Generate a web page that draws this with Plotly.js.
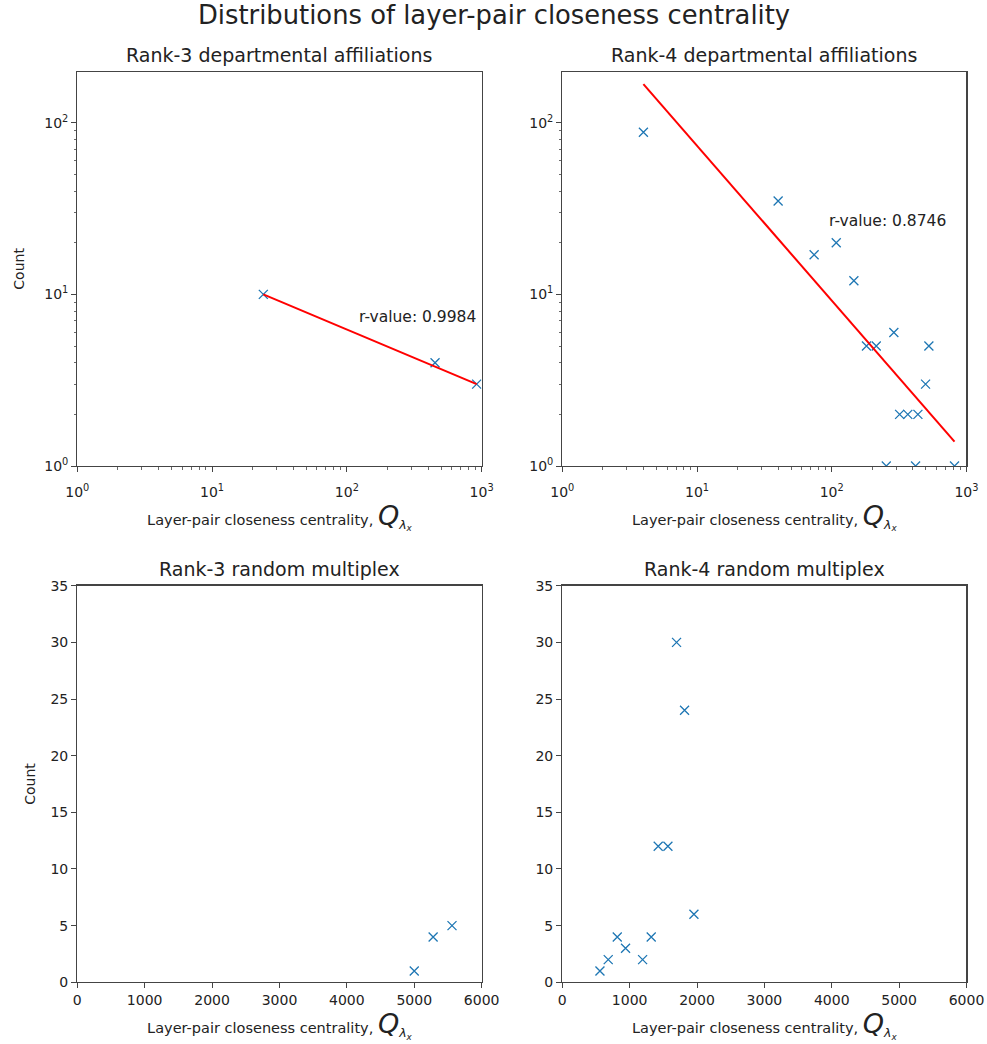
<!DOCTYPE html>
<html>
<head>
<meta charset="utf-8">
<script src="https://cdn.plot.ly/plotly-3.0.1.min.js"></script>
<style>html,body{margin:0;padding:0;background:#fff;}#chart{width:987px;height:1044px;}</style>
</head>
<body>
<div id="chart"></div>
<script>
// ---- data ----
const rank3DeptX = [24, 451, 918];
const rank3DeptY = [10, 4, 3];
const rank3DeptFitSlope = -0.3304;     // log10-log10 fit
const rank3DeptFitIntercept = 1.456;
const rank3DeptRText = "r-value: 0.9984";

const rank4DeptX = [4, 40, 74, 108, 146, 181, 214, 289, 526, 497, 319, 367, 436, 254, 419, 815];
const rank4DeptY = [88, 35, 17, 20, 12, 5, 5, 6, 5, 3, 2, 2, 2, 1, 1, 1];
const rank4DeptFitSlope = -0.902;
const rank4DeptFitIntercept = 2.768;
const rank4DeptRText = "r-value: 0.8746";

const rank3RandX = [5000, 5280, 5560];
const rank3RandY = [1, 4, 5];

const rank4RandX = [559, 682, 816, 939, 1192, 1320, 1424, 1568, 1696, 1815, 1954];
const rank4RandY = [1, 2, 4, 3, 2, 4, 12, 12, 30, 24, 6];

const logTickVals = [1, 10, 100, 1000];
const logTickText = ["10<sup>0</sup>", "10<sup>1</sup>", "10<sup>2</sup>", "10<sup>3</sup>"];
const minorDigits = [2, 3, 4, 5, 6, 7, 8, 9];

const mainTitle = "Distributions of layer-pair closeness centrality";
const subTitles = ["Rank-3 departmental affiliations", "Rank-4 departmental affiliations",
                   "Rank-3 random multiplex", "Rank-4 random multiplex"];
const xLabel = "Layer-pair closeness centrality, <span style='font-size:27px'><i>Q</i></span><span style='font-size:18px'><sub><i>λ<sub>x</sub></i></sub></span>";
const yLabel = "Count";

// ---- helpers ----
const minorVals = [];
[1, 10, 100].forEach(d => minorDigits.forEach(m => minorVals.push(d * m)));

function fitLine(xs, slope, intercept) {
  const lo = Math.min(...xs), hi = Math.max(...xs);
  const f = x => Math.pow(10, intercept + slope * Math.log10(x));
  return {x: [lo, hi], y: [f(lo), f(hi)]};
}
const markerStyle = {symbol: 'x-thin', size: 9, line: {color: '#1f77b4', width: 1.3}, color: '#1f77b4'};
function pts(x, y, xa, ya) {
  return {x: x, y: y, xaxis: xa, yaxis: ya, type: 'scatter', mode: 'markers', marker: markerStyle, showlegend: false, hoverinfo: 'x+y'};
}
function line(l, xa, ya) {
  return {x: l.x, y: l.y, xaxis: xa, yaxis: ya, type: 'scatter', mode: 'lines', line: {color: '#ff0000', width: 2}, showlegend: false};
}

const l1 = fitLine(rank3DeptX, rank3DeptFitSlope, rank3DeptFitIntercept);
const l2 = fitLine(rank4DeptX, rank4DeptFitSlope, rank4DeptFitIntercept);

const data = [
  pts(rank3DeptX, rank3DeptY, 'x', 'y'),
  line(l1, 'x', 'y'),
  pts(rank4DeptX, rank4DeptY, 'x2', 'y2'),
  line(l2, 'x2', 'y2'),
  pts(rank3RandX, rank3RandY, 'x3', 'y3'),
  pts(rank4RandX, rank4RandY, 'x4', 'y4')
];

const fontFam = 'DejaVu Sans, sans-serif';
const axisBase = {
  showline: true, mirror: true, linecolor: '#444', linewidth: 1.2,
  ticks: 'outside', ticklen: 5, tickcolor: '#444', tickwidth: 1,
  showgrid: false, zeroline: false,
  tickfont: {family: fontFam, size: 14, color: '#222'}
};
function logAxis(domain, anchor, extra) {
  return Object.assign({}, axisBase, {
    type: 'log', domain: domain, anchor: anchor,
    tickmode: 'array', tickvals: logTickVals, ticktext: logTickText,
    minor: {tickmode: 'array', tickvals: minorVals, ticks: 'outside', ticklen: 2.5, tickcolor: '#444', tickwidth: 0.8, showgrid: false}
  }, extra || {});
}
function linAxis(domain, anchor, extra) {
  return Object.assign({}, axisBase, {domain: domain, anchor: anchor}, extra || {});
}
function xTitle(standoff) { return {text: xLabel, font: {family: fontFam, size: 14.5, color: '#222'}, standoff: standoff}; }
function yTitle(standoff) { return {text: yLabel, font: {family: fontFam, size: 14, color: '#222'}, standoff: standoff}; }

const dx1 = [0.0783, 0.488], dx2 = [0.5697, 0.9792];
const dyTop = [0.5536, 0.9313], dyBot = [0.0591, 0.4390];

const subFont = {family: fontFam, size: 19, color: '#222'};
const rFont = {family: fontFam, size: 15.5, color: '#222'};

const layout = {
  width: 987, height: 1044,
  margin: {l: 0, r: 0, t: 0, b: 0},
  paper_bgcolor: '#fff', plot_bgcolor: '#fff',
  font: {family: fontFam, color: '#222'},
  showlegend: false,
  xaxis: logAxis(dx1, 'y', {range: [0, 3], ticklabelstandoff: 8, title: xTitle(4)}),
  yaxis: logAxis(dyTop, 'x', {range: [0, 2.297], title: yTitle(16)}),
  xaxis2: logAxis(dx2, 'y2', {range: [0, 3], ticklabelstandoff: 8, title: xTitle(4)}),
  yaxis2: logAxis(dyTop, 'x2', {range: [0, 2.297]}),
  xaxis3: linAxis(dx1, 'y3', {range: [0, 6000], dtick: 1000, title: xTitle(0)}),
  yaxis3: linAxis(dyBot, 'x3', {range: [0, 35], dtick: 5, title: yTitle(11)}),
  xaxis4: linAxis(dx2, 'y4', {range: [0, 6000], dtick: 1000, title: xTitle(0)}),
  yaxis4: linAxis(dyBot, 'x4', {range: [0, 35], dtick: 5}),
  annotations: [
    {text: mainTitle, xref: 'paper', yref: 'paper', x: 0.5, y: 1 - 15 / 1044, xanchor: 'center', yanchor: 'middle', showarrow: false, font: {family: fontFam, size: 25.8, color: '#222'}},
    {text: subTitles[0], xref: 'paper', yref: 'paper', x: (dx1[0] + dx1[1]) / 2, y: 1 - 54.5 / 1044, xanchor: 'center', yanchor: 'middle', showarrow: false, font: subFont},
    {text: subTitles[1], xref: 'paper', yref: 'paper', x: (dx2[0] + dx2[1]) / 2, y: 1 - 54.5 / 1044, xanchor: 'center', yanchor: 'middle', showarrow: false, font: subFont},
    {text: subTitles[2], xref: 'paper', yref: 'paper', x: (dx1[0] + dx1[1]) / 2, y: 1 - 568.5 / 1044, xanchor: 'center', yanchor: 'middle', showarrow: false, font: subFont},
    {text: subTitles[3], xref: 'paper', yref: 'paper', x: (dx2[0] + dx2[1]) / 2, y: 1 - 568.5 / 1044, xanchor: 'center', yanchor: 'middle', showarrow: false, font: subFont},
    {text: rank3DeptRText, xref: 'x', yref: 'y', x: Math.log10(118), y: Math.log10(7.4), xanchor: 'left', yanchor: 'middle', showarrow: false, font: rFont},
    {text: rank4DeptRText, xref: 'x2', yref: 'y2', x: Math.log10(93), y: Math.log10(26.7), xanchor: 'left', yanchor: 'middle', showarrow: false, font: rFont}
  ]
};

Plotly.newPlot('chart', data, layout, {displayModeBar: false, staticPlot: true});
</script>
</body>
</html>
